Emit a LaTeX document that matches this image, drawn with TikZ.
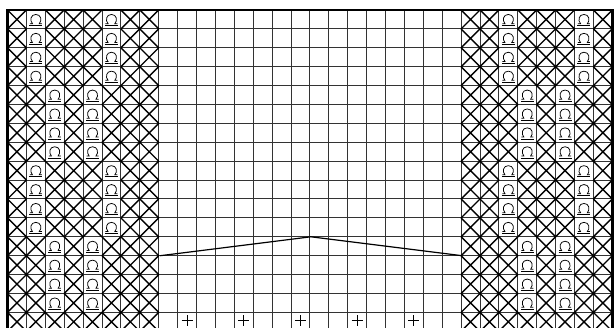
\documentclass[tikz,border=0pt]{standalone}
\begin{document}
\begin{tikzpicture}[x=1pt,y=-1pt,
  gridline/.style={line width=1pt,black!80},
  border/.style={line width=2.4pt,black},
  xmark/.style={line width=1.4pt,black},
  symline/.style={line width=0.75pt,black},
  pluslin/.style={line width=1pt,black},
  shapeline/.style={line width=1.2pt,black},
  loopsym/.pic={
    \draw[symline] (-6,4.2) -- (-3.4,4.2) .. controls (-6.4,1) and (-5.2,-5) .. (0,-5)
       .. controls (5.2,-5) and (6.4,1) .. (3.4,4.2) -- (6,4.2);
    \draw[symline] (-6.5,6.2) -- (6.5,6.2);
  }]
\useasboundingbox (0,0) rectangle (615,328);
\fill[white] (0,0) rectangle (615,328);
\begin{scope}
\clip (0,0) rectangle (615,328);
\def\xo{7.5}\def\yo{10}\def\cs{18.9}
% grid
\foreach \i in {0,...,32}{
  \pgfmathsetmacro\xx{\xo+\i*\cs}
  \draw[gridline] (\xx,\yo) -- (\xx,340);
}
\foreach \j in {0,...,17}{
  \pgfmathsetmacro\yy{\yo+\j*\cs}
  \draw[gridline] (\xo,\yy) -- (612.3,\yy);
}
% cells of the two side panels
\foreach \k/\a/\b in {0/2/6,1/2/6,2/2/6,3/2/6,4/3/5,5/3/5,6/3/5,7/3/5,
                      8/2/6,9/2/6,10/2/6,11/2/6,12/3/5,13/3/5,14/3/5,15/3/5,16/0/0}{
  \foreach \c in {1,...,8,25,26,27,28,29,30,31,32}{
    \pgfmathtruncatemacro\lc{\c<9 ? \c : 33-\c}
    \pgfmathsetmacro\xl{\xo+(\c-1)*\cs}
    \pgfmathsetmacro\xr{\xo+\c*\cs}
    \pgfmathsetmacro\yt{\yo+\k*\cs}
    \pgfmathsetmacro\yb{\yo+(\k+1)*\cs}
    \pgfmathsetmacro\xm{\xo+(\c-0.5)*\cs}
    \pgfmathsetmacro\ym{\yo+(\k+0.5)*\cs}
    \pgfmathtruncatemacro\isO{(\lc==\a)||(\lc==\b) ? 1 : 0}
    \ifnum\isO=1
      \pic at (\xm,\ym) {loopsym};
    \else
      \draw[xmark] (\xl,\yt) -- (\xr,\yb) (\xl,\yb) -- (\xr,\yt);
    \fi
  }
}
% plus signs in bottom row
\foreach \c in {10,13,16,19,22}{
  \pgfmathsetmacro\xm{\xo+(\c-0.5)*\cs}
  \pgfmathsetmacro\ym{\yo+16.5*\cs-1}
  \draw[pluslin] (\xm-5.5,\ym) -- (\xm+5.5,\ym) (\xm,\ym-5.5) -- (\xm,\ym+5.5);
}
% shaping line
\coordinate (sl) at (\xo+8*\cs+1.5,\yo+13*\cs);
\coordinate (sp) at (\xo+16*\cs+1,\yo+12*\cs);
\coordinate (sr) at (\xo+24*\cs+1,\yo+13*\cs);
\draw[shapeline] (sl) -- (sp) -- (sr);
% border
\draw[border] (\xo,340) -- (\xo,\yo) -- (612.3,\yo) -- (612.3,340);
\end{scope}
\end{tikzpicture}
\end{document}
